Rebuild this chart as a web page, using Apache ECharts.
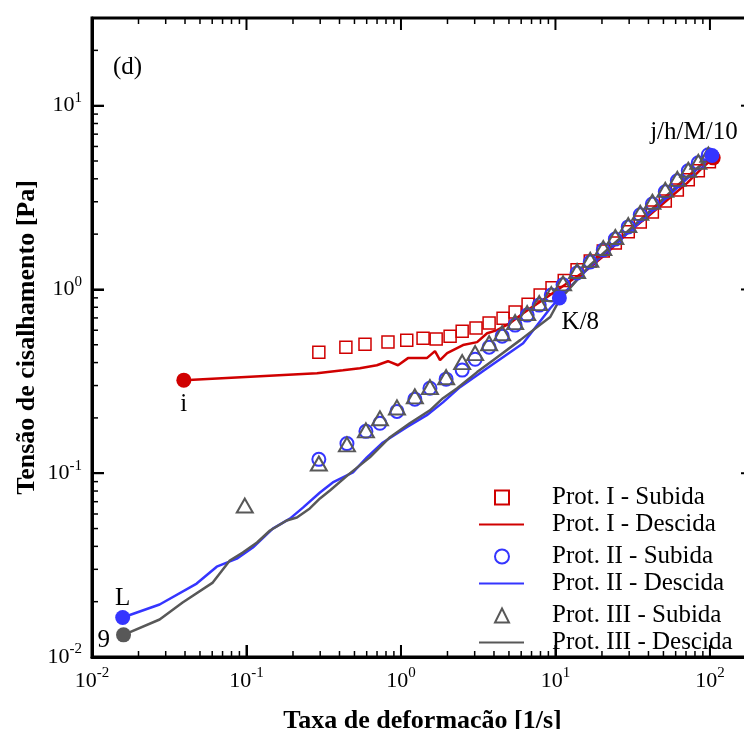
<!DOCTYPE html>
<html>
<head>
<meta charset="utf-8">
<script src="https://cdn.jsdelivr.net/npm/echarts@6/dist/echarts.min.js"></script>
<style>
html,body{margin:0;padding:0;background:#fff}
#chart{width:744px;height:729px}
</style>
</head>
<body>
<div id="chart"></div>
<script>
// ticks principais (potencias de 10)
const xMajor = [0.01, 0.1, 1, 10, 100]
const yMajor = [0.01, 0.1, 1, 10]

// Prot. I - Subida (quadrados)
const p1SubX = [0.294, 0.44, 0.585, 0.824, 1.09, 1.39, 1.69, 2.08, 2.49, 3.06, 3.72, 4.58, 5.48, 6.65, 7.96, 9.5, 11.4, 13.8, 16.8, 20.4, 24.4, 29.6, 35.4, 42.4, 51.4, 61.5, 72.4, 84.1, 99.2]
const p1SubY = [0.456, 0.485, 0.504, 0.517, 0.530, 0.543, 0.537, 0.557, 0.593, 0.616, 0.656, 0.698, 0.753, 0.832, 0.932, 1.02, 1.12, 1.28, 1.43, 1.62, 1.79, 2.06, 2.33, 2.64, 3.03, 3.48, 3.95, 4.42, 4.95]

// Prot. I - Descida
const p1DesX = [0.0393, 0.286, 0.421, 0.542, 0.698, 0.824, 0.957, 1.11, 1.47, 1.66, 1.79, 1.99, 2.52, 3.11, 3.61, 4.19, 5.09, 6.18, 8.84, 11.9, 16.0, 21.6, 29.1, 39.3, 52.9, 71.3, 86.6, 105]
const p1DesY = [0.321, 0.350, 0.363, 0.373, 0.387, 0.407, 0.387, 0.423, 0.423, 0.462, 0.412, 0.450, 0.498, 0.517, 0.578, 0.601, 0.656, 0.743, 0.909, 1.08, 1.28, 1.58, 2.03, 2.48, 3.07, 3.80, 4.48, 5.20]

// Prot. II - Subida (circulos)
const p2SubX = [0.294, 0.447, 0.593, 0.731, 0.942, 1.23, 1.54, 1.96, 2.49, 3.02, 3.72, 4.52, 5.48, 6.56, 7.85, 9.40, 11.2, 13.8, 16.8, 20.4, 24.4, 29.6, 35.4, 42.4, 51.4, 61.5, 72.4, 84.1, 97.7]
const p2SubY = [0.119, 0.145, 0.169, 0.187, 0.217, 0.253, 0.290, 0.325, 0.364, 0.417, 0.485, 0.557, 0.640, 0.725, 0.822, 0.932, 1.06, 1.23, 1.41, 1.64, 1.88, 2.19, 2.55, 2.92, 3.40, 3.90, 4.42, 4.89, 5.41]

// Prot. II - Descida
const p2DesX = [0.0158, 0.0274, 0.0476, 0.0642, 0.0866, 0.110, 0.148, 0.191, 0.232, 0.299, 0.362, 0.489, 0.602, 0.764, 1.09, 1.47, 1.87, 2.41, 3.61, 6.18, 9.25, 10.6, 16.8, 26.3, 41.1, 64.3, 102]
const p2DesY = [0.0164, 0.0193, 0.0251, 0.0310, 0.0343, 0.0394, 0.0500, 0.0566, 0.0650, 0.0785, 0.0891, 0.101, 0.122, 0.147, 0.178, 0.207, 0.243, 0.294, 0.373, 0.510, 0.79, 0.898, 1.34, 1.86, 2.61, 3.71, 5.34]

// Prot. III - Subida (triangulos)
const p3SubX = [0.0975, 0.294, 0.447, 0.593, 0.731, 0.942, 1.23, 1.54, 1.96, 2.49, 3.02, 3.72, 4.52, 5.48, 6.56, 7.85, 9.40, 11.2, 13.8, 16.8, 20.4, 24.4, 29.6, 35.4, 42.4, 51.4, 61.5, 72.4, 84.1, 97.7]
const p3SubY = [0.0667, 0.113, 0.1436, 0.171, 0.199, 0.228, 0.262, 0.294, 0.333, 0.402, 0.450, 0.510, 0.578, 0.664, 0.743, 0.843, 0.944, 1.08, 1.26, 1.45, 1.68, 1.93, 2.24, 2.61, 3.00, 3.48, 4.00, 4.48, 4.95, 5.41]

// Prot. III - Descida
const p3DesX = [0.0160, 0.0274, 0.0386, 0.0605, 0.078, 0.0946, 0.117, 0.142, 0.182, 0.212, 0.257, 0.299, 0.347, 0.467, 0.629, 0.849, 1.14, 1.54, 1.87, 2.31, 3.11, 3.95, 5.91, 9.25, 10.6, 16.8, 26.3, 41.1, 64.3, 102]
const p3DesY = [0.0132, 0.0160, 0.0198, 0.0254, 0.0335, 0.0370, 0.0420, 0.0488, 0.0553, 0.0574, 0.0643, 0.0729, 0.0806, 0.0998, 0.122, 0.157, 0.187, 0.220, 0.256, 0.290, 0.355, 0.412, 0.530, 0.708, 0.875, 1.36, 1.91, 2.68, 3.80, 5.34]

// pontos marcados (inicio / fim das curvas)
const ptNames = ['i', 'L', '9', 'K/8', '', 'j/h/M/10']
const ptX = [0.0393, 0.0158, 0.016, 10.6, 105, 103]
const ptY = [0.321, 0.0164, 0.0132, 0.898, 5.20, 5.36]

const names = ['Prot. I - Subida', 'Prot. I - Descida', 'Prot. II - Subida', 'Prot. II - Descida', 'Prot. III - Subida', 'Prot. III - Descida']

const serif = 'Liberation Serif'
const red = '#d00000', blue = '#3535ff', grey = '#585858'
const xMin = 0.01, xMax = 190, yMin = 0.01, yMax = 30

// estilo de cada ponto marcado (cor, posicao do texto)
const ptStyle = {
    'i': {color: red, position: 'bottom', distance: 4, offset: [0, 0]},
    'L': {color: blue, position: 'top', distance: -1, offset: [0, 0]},
    '9': {color: grey, position: 'left', distance: 6, offset: [0, 6]},
    'K/8': {color: blue, position: 'bottom', distance: 4, offset: [21, 0]},
    '': {color: red, position: 'top', distance: 0, offset: [0, 0]},
    'j/h/M/10': {color: blue, position: 'top', distance: 3, offset: [-18, 0]}
}

const zip = (xs, ys) => xs.map((x, i) => [x, ys[i]])

// ticks menores 2..9 de cada decada
function minorTicks(lo, hi) {
    let out = []
    for (let e = -2; e <= 2; e++) {
        for (let m = 2; m <= 9; m++) {
            let v = +(m * Math.pow(10, e)).toPrecision(3)
            if (v > lo && v < hi) out.push(v)
        }
    }
    return out
}

const pow10 = v => '{b|10}{s|' + Math.round(Math.log10(v)) + '}'
const richLabel = {
    b: {fontFamily: serif, fontSize: 22, lineHeight: 30, color: '#000'},
    s: {fontFamily: serif, fontSize: 15, lineHeight: 15, verticalAlign: 'top', color: '#000'}
}

function makeAxis(pos, min, max, major, title, gap) {
    return {
        type: 'log', min: min, max: max,
        splitLine: {show: false},
        axisLine: {show: true, lineStyle: {color: '#000', width: 3}},
        axisTick: {show: true, inside: true, length: 12, lineStyle: {color: '#000', width: 2}},
        axisLabel: {
            customValues: major, formatter: pow10, rich: richLabel,
            fontFamily: serif, fontSize: 22, color: '#000',
            margin: pos === 'bottom' ? 9 : 10
        },
        name: title, nameLocation: 'middle', nameGap: gap, nameMoveOverlap: false,
        nameRotate: pos === 'left' ? 90 : 0,
        nameTextStyle: {fontFamily: serif, fontWeight: 'bold', fontSize: 26, color: '#000'}
    }
}

const clear = 'rgba(255,255,255,0)'

function lineSeries(name, xs, ys, color) {
    return {
        name: name, type: 'line', data: zip(xs, ys), symbol: 'none',
        lineStyle: {color: color, width: 2.5}, itemStyle: {color: color},
        emphasis: {disabled: true}, z: 2
    }
}
function markSeries(name, xs, ys, color, symbol, size, bw) {
    return {
        name: name, type: 'scatter', data: zip(xs, ys), symbol: symbol, symbolSize: size,
        itemStyle: {color: clear, borderColor: color, borderWidth: bw, opacity: 1},
        emphasis: {disabled: true}, z: 3
    }
}

// ticks para dentro nos quatro lados: barrinhas posicionadas pela escala dos eixos
function tickItems(values, side, len, w) {
    return values.map(function (v) {
        if (side === 'bottom') return {value: [v, yMin], symbolSize: [w, len], symbolOffset: [0, -len / 2]}
        if (side === 'top') return {value: [v, yMax], symbolSize: [w, len], symbolOffset: [0, len / 2]}
        if (side === 'left') return {value: [xMin, v], symbolSize: [len, w], symbolOffset: [len / 2, 0]}
        return {value: [xMax, v], symbolSize: [len, w], symbolOffset: [-len / 2, 0]}
    })
}
let tickData = []
;['bottom', 'top'].forEach(function (s) {
    tickData = tickData.concat(tickItems(xMajor, s, 12, 2), tickItems(minorTicks(xMin, xMax), s, 6, 1.5))
})
;['left', 'right'].forEach(function (s) {
    tickData = tickData.concat(tickItems(yMajor, s, 12, 2), tickItems(minorTicks(yMin, yMax), s, 6, 1.5))
})

let ptData = ptNames.map(function (n, i) {
    let st = ptStyle[n]
    return {
        value: [ptX[i], ptY[i]], name: n,
        itemStyle: {color: st.color, opacity: 1},
        label: {
            show: n !== '', formatter: n, position: st.position, distance: st.distance,
            offset: st.offset, fontFamily: serif, fontSize: 25, color: '#000'
        }
    }
})

const legendText = pad => ({fontFamily: serif, fontSize: 25, lineHeight: 20, color: '#000', padding: [0, 0, 0, pad]})

window.myChart = echarts.init(document.getElementById('chart'), null, {renderer: 'canvas'})

let option = {
    animation: false,
    backgroundColor: '#fff',
    grid: {left: 92, right: -9, top: 18, bottom: 72, outerBoundsMode: 'none', show: true, borderColor: '#000', borderWidth: 3},
    xAxis: makeAxis('bottom', xMin, xMax, xMajor, 'Taxa de deformacão [1/s]', 51),
    yAxis: makeAxis('left', yMin, yMax, yMajor, 'Tensão de cisalhamento [Pa]', 52),
    legend: [
        {   // simbolos (Subida)
            data: [names[0], names[2], names[4]],
            orient: 'vertical', left: 489, top: 480,
            itemWidth: 14, itemHeight: 14, itemGap: 34,
            selectedMode: false,
            textStyle: legendText(38)
        },
        {   // linhas (Descida)
            data: [names[1], names[3], names[5]].map(n => ({name: n, itemStyle: {color: clear, borderColor: clear, borderWidth: 0}})),
            orient: 'vertical', left: 473, top: 507,
            itemWidth: 45, itemHeight: 14, itemGap: 34,
            selectedMode: false,
            textStyle: legendText(23)
        }
    ],
    graphic: [{
        type: 'text', left: 113, top: 55,
        style: {text: '(d)', font: '25px "Liberation Serif"', fill: '#000'}
    }],
    series: [
        lineSeries(names[1], p1DesX, p1DesY, red),
        lineSeries(names[3], p2DesX, p2DesY, blue),
        lineSeries(names[5], p3DesX, p3DesY, grey),
        markSeries(names[0], p1SubX, p1SubY, red, 'rect', 12, 1.5),
        markSeries(names[2], p2SubX, p2SubY, blue, 'circle', 13, 2),
        markSeries(names[4], p3SubX, p3SubY, grey, 'triangle', [16, 14], 2),
        {
            name: 'pontos', type: 'scatter', data: ptData, symbol: 'circle', symbolSize: 15,
            emphasis: {disabled: true}, z: 4
        },
        {
            name: 'ticks', type: 'scatter', data: tickData, symbol: 'rect', clip: false, silent: true,
            itemStyle: {color: '#000', opacity: 1}, emphasis: {disabled: true}, z: 3
        }
    ]
}
myChart.setOption(option)
</script>
</body>
</html>
